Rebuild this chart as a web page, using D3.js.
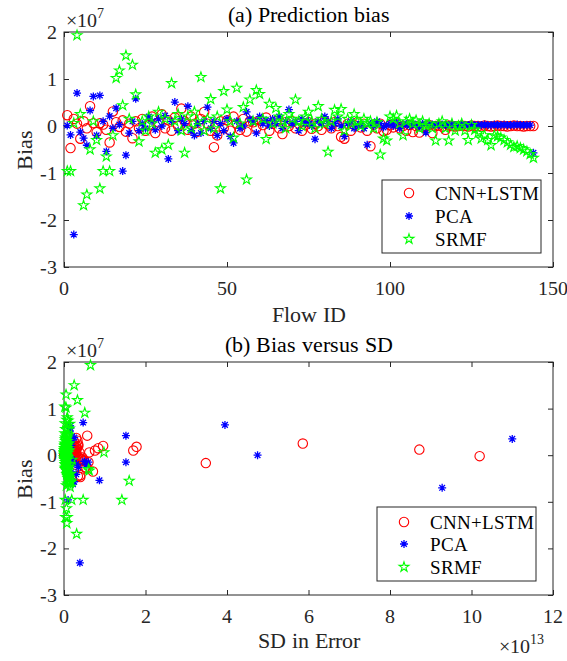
<!DOCTYPE html>
<html>
<head>
<meta charset="utf-8">
<script src="https://cdn.jsdelivr.net/npm/d3@7"></script>
<style>
  @font-face { font-family: "ChartSerif"; src: local("Liberation Serif"), local("LiberationSerif-Regular"), local("LiberationSerif"); }
  body { margin: 0; background: #fff; }
  svg text { font-family: "ChartSerif", "Liberation Serif", "Times New Roman", serif; }
</style>
</head>
<body>
<div id="chart"></div>
<script>
// ---- data (bias in units of 1e7, SD in units of 1e13) ----
const flowIds = d3.range(1, 145);
const seriesNames = ["CNN+LSTM", "PCA", "SRMF"];

const biasCnn = [
  0.23, -0.47, 0.15, 0.05, -0.27, 0.10, -0.05, 0.42, 0.06, -0.13, 0.06, 0.03,
  -0.08, -0.35, 0.31, 0.08, -0.02, 0.12, -0.12, 0.05, -0.26, 0.10, -0.05, 0.15,
  -0.10, 0.02, 0.20, -0.15, 0.08, 0.25, -0.05, 0.12, -0.10, 0.18, 0.00, 0.37,
  0.10, -0.08, 0.20, 0.05, -0.12, 0.15, 0.30, 0.05, -0.10, -0.45, -0.20, 0.10,
  -0.05, 0.12, -0.10, 0.20, 0.05, -0.08, 0.15, -0.12, 0.10, 0.08, -0.05, 0.12,
  0.02, 0.18, -0.10, 0.05, 0.10, -0.05, -0.17, 0.08, 0.00, 0.10, -0.05, 0.05,
  -0.10, 0.02, 0.08, -0.06, 0.05, 0.00, -0.08, 0.10, 0.03, -0.05, 0.08, 0.00,
  -0.23, -0.27, 0.05, -0.10, 0.02, 0.08, -0.03, 0.05, -0.10, -0.43, 0.03, -0.05,
  0.05, -0.11, -0.08, 0.02, -0.03, 0.05, -0.05, 0.00, -0.10, 0.02, -0.13, 0.00,
  -0.14, -0.02, 0.00, 0.02, -0.15, 0.00, 0.01, -0.01, -0.08, 0.01, 0.00, -0.01,
  0.00, 0.01, 0.00, -0.01, 0.01, 0.00, 0.00, -0.01, 0.01, 0.00, -0.01, 0.00,
  0.01, 0.00, 0.00, -0.01, 0.00, 0.01, 0.00, 0.00, -0.01, 0.00, 0.00, 0.00
];

const biasPca = [
  0.01, -0.19, -2.31, 0.70, -0.13, -0.26, -0.41, 0.33, 0.63, -0.20, 0.65, 0.10,
  -0.54, 0.21, -0.05, 0.38, 0.03, -0.96, -0.62, -0.15, 0.10, 0.58, -0.10, 0.05,
  -0.05, 0.20, 0.10, -0.08, 0.15, 0.00, 0.22, -0.70, 0.10, 0.51, -0.10, 0.15,
  0.05, 0.42, -0.10, -0.20, 0.05, -0.15, 0.10, 0.40, -0.05, 0.10, -0.20, 0.05,
  -0.10, 0.15, -0.22, -0.36, 0.10, -0.05, 0.00, 0.30, 0.15, 0.10, -0.15, 0.20,
  0.05, 0.12, 0.00, 0.15, 0.05, 0.20, -0.05, 0.10, 0.35, 0.05, 0.10, -0.10,
  0.15, 0.05, 0.10, 0.00, -0.28, 0.10, 0.05, 0.20, 0.10, -0.05, 0.05, 0.15,
  0.00, -0.22, 0.05, 0.10, -0.05, 0.02, 0.05, -0.05, -0.40, 0.05, 0.00, 0.10,
  0.05, -0.03, 0.02, 0.05, 0.00, 0.08, -0.05, 0.03, 0.05, 0.00, 0.05, 0.02,
  -0.03, 0.05, -0.14, 0.02, 0.03, 0.02, 0.02, 0.03, 0.02, 0.02, 0.03, 0.02,
  0.02, 0.03, 0.02, 0.02, 0.03, 0.02, 0.02, 0.02, 0.03, 0.02, 0.02, 0.03,
  0.02, 0.02, 0.03, 0.02, 0.02, 0.02, 0.03, 0.02, 0.02, 0.02, 0.02, -0.57
];

const biasSrmf = [
  -0.96, -0.96, 0.06, 1.93, 0.25, -1.69, -1.46, -0.50, 0.10, -0.30, -1.33, -0.96,
  -0.65, -0.96, -0.20, 1.02, 1.18, 0.44, 1.50, 0.15, 1.30, 0.67, -0.33, 0.10,
  -0.10, 0.20, 0.05, -0.57, 0.30, -0.50, 0.15, -0.40, 0.91, 0.10, 0.25, -0.10,
  -0.57, 0.20, -0.05, 0.30, 0.10, 1.04, -0.10, 0.15, 0.57, -0.05, 0.20, -1.33,
  0.74, 0.35, 0.10, -0.25, 0.81, 0.05, 0.40, -1.14, 0.56, 0.10, 0.76, 0.68,
  0.15, -0.28, 0.47, 0.05, 0.38, 0.20, 0.10, -0.05, 0.25, 0.15, 0.56, 0.10,
  0.00, 0.20, 0.30, 0.10, -0.05, 0.42, 0.15, 0.05, -0.55, 0.10, 0.34, 0.20,
  0.36, -0.10, 0.15, 0.05, 0.25, 0.10, 0.00, 0.15, 0.05, 0.10, -0.05, 0.08,
  -0.61, -0.27, -0.31, 0.20, 0.15, 0.22, 0.05, -0.20, 0.10, 0.15, 0.05, 0.12,
  -0.05, 0.10, 0.00, 0.05, -0.05, -0.31, 0.05, 0.10, -0.05, -0.31, 0.05, -0.10,
  0.00, 0.05, -0.10, -0.30, 0.02, -0.08, -0.15, -0.27, -0.20, -0.30, -0.41, -0.20,
  -0.22, -0.25, -0.30, -0.35, -0.40, -0.45, -0.43, -0.47, -0.50, -0.54, -0.60, -0.68
];

const sdCnn = [
  0.35, 0.40, 0.84, 0.30, 0.55, 1.70, 0.45, 0.57, 0.62, 0.50, 0.38, 0.28,
  0.42, 0.71, 0.33, 0.25, 10.20, 8.72, 0.48, 0.30, 0.52, 0.76, 0.35, 0.20,
  0.44, 0.18, 0.30, 0.60, 0.22, 5.86, 0.15, 0.27, 0.36, 1.78, 0.20, 0.30,
  0.25, 0.18, 0.96, 0.20, 0.26, 0.32, 0.24, 0.16, 0.30, 0.34, 0.28, 0.22,
  0.18, 0.24, 0.20, 0.35, 0.15, 0.22, 0.30, 0.18, 0.25, 0.20, 0.15, 0.28,
  0.12, 0.26, 0.20, 0.14, 0.22, 0.18, 3.48, 0.16, 0.12, 0.20, 0.14, 0.10,
  0.18, 0.12, 0.15, 0.10, 0.14, 0.08, 0.16, 0.12, 0.10, 0.15, 0.08, 0.12,
  0.10, 0.25, 0.08, 0.14, 0.06, 0.10, 0.08, 0.12, 0.15, 0.40, 0.07, 0.10,
  0.08, 0.20, 0.06, 0.05, 0.07, 0.08, 0.05, 0.06, 0.10, 0.05, 0.18, 0.04,
  0.16, 0.05, 0.04, 0.05, 0.15, 0.04, 0.03, 0.04, 0.08, 0.03, 0.03, 0.04,
  0.03, 0.02, 0.03, 0.03, 0.02, 0.03, 0.02, 0.03, 0.02, 0.02, 0.03, 0.02,
  0.02, 0.03, 0.02, 0.02, 0.03, 0.02, 0.02, 0.02, 0.03, 0.02, 0.02, 0.03
];

const sdPca = [
  0.10, 0.30, 0.39, 0.47, 0.50, 0.35, 0.30, 0.20, 0.15, 0.55, 3.95, 0.12,
  0.87, 0.18, 0.10, 0.25, 0.08, 0.10, 0.22, 0.60, 0.12, 0.16, 0.20, 0.10,
  0.14, 0.08, 0.12, 0.18, 0.10, 0.06, 0.12, 9.28, 0.08, 0.14, 0.10, 0.12,
  0.06, 1.52, 0.10, 0.15, 0.08, 0.12, 0.06, 0.20, 0.10, 0.08, 0.14, 0.06,
  0.10, 0.08, 0.15, 0.18, 0.06, 0.10, 4.75, 0.12, 0.08, 0.06, 1.52, 0.10,
  0.05, 0.08, 0.06, 0.10, 0.05, 0.08, 0.06, 0.05, 11.00, 0.06, 0.05, 0.08,
  0.06, 0.05, 0.04, 0.06, 0.12, 0.05, 0.04, 0.08, 0.05, 0.04, 0.06, 0.05,
  0.04, 0.10, 0.05, 0.04, 0.05, 0.03, 0.04, 0.05, 0.14, 0.04, 0.03, 0.05,
  0.04, 0.03, 0.04, 0.03, 0.03, 0.04, 0.03, 0.03, 0.04, 0.03, 0.02, 0.03,
  0.03, 0.02, 0.06, 0.02, 0.03, 0.02, 0.02, 0.03, 0.02, 0.02, 0.02, 0.02,
  0.02, 0.02, 0.02, 0.02, 0.02, 0.02, 0.02, 0.02, 0.02, 0.02, 0.02, 0.02,
  0.02, 0.02, 0.02, 0.02, 0.02, 0.02, 0.02, 0.02, 0.02, 0.02, 0.02, 0.25
];

const sdSrmf = [
  0.03, 0.19, 0.98, 0.65, 0.12, 0.31, 0.07, 0.10, 0.05, 0.60, 0.08, 0.47,
  0.06, 1.42, 0.15, 0.05, 0.33, 0.10, 0.25, 0.08, 0.05, 0.14, 0.62, 0.12,
  0.20, 0.06, 0.10, 0.18, 0.04, 0.12, 0.08, 0.16, 0.51, 0.05, 0.10, 0.07,
  0.14, 0.03, 0.09, 0.06, 0.11, 0.02, 0.08, 0.05, 0.13, 0.04, 0.07, 0.04,
  0.10, 0.06, 0.03, 0.12, 0.08, 0.05, 0.09, 0.06, 0.04, 0.11, 0.07, 0.03,
  0.05, 0.09, 0.02, 0.06, 0.04, 0.08, 0.03, 0.05, 0.07, 0.02, 0.06, 0.04,
  0.03, 0.05, 0.08, 0.02, 0.04, 0.06, 0.03, 0.02, 1.60, 0.05, 0.03, 0.04,
  0.06, 0.02, 0.03, 0.05, 0.02, 0.04, 0.03, 0.02, 0.05, 0.03, 0.02, 0.04,
  0.09, 0.03, 0.05, 0.02, 0.03, 0.04, 0.02, 0.03, 0.02, 0.04, 0.02, 0.03,
  0.02, 0.03, 0.02, 0.02, 0.03, 0.06, 0.02, 0.03, 0.02, 0.05, 0.02, 0.03,
  0.02, 0.02, 0.03, 0.04, 0.02, 0.02, 0.03, 0.05, 0.04, 0.05, 0.07, 0.04,
  0.05, 0.06, 0.07, 0.08, 0.09, 0.10, 0.10, 0.11, 0.12, 0.13, 0.14, 0.15
];

const flowTicks = [0, 50, 100, 150];
const sdTicks = [0, 2, 4, 6, 8, 10, 12];
const biasTicks = [-3, -2, -1, 0, 1, 2];

// ---- drawing ----
const W = 567, H = 661;
const axisColor = "#262626";
const serif = '"ChartSerif", "Liberation Serif", "Times New Roman", serif';
const styles = [
  { color: "#ff0000", kind: "circle" },
  { color: "#0000ff", kind: "asterisk" },
  { color: "#00ff00", kind: "star" }
];

const svg = d3.select("#chart").append("svg")
  .attr("width", W)
  .attr("height", H);

function starPath(R) {
  const p = d3.path();
  const r = R * 0.382;
  for (let i = 0; i < 10; i++) {
    const a = -Math.PI / 2 + i * Math.PI / 5;
    const rr = i % 2 ? r : R;
    if (i === 0) p.moveTo(rr * Math.cos(a), rr * Math.sin(a));
    else p.lineTo(rr * Math.cos(a), rr * Math.sin(a));
  }
  p.closePath();
  return p.toString();
}

function asteriskPath(R) {
  const p = d3.path();
  for (let i = 0; i < 4; i++) {
    const a = i * Math.PI / 4;
    p.moveTo(R * Math.cos(a), R * Math.sin(a));
    p.lineTo(-R * Math.cos(a), -R * Math.sin(a));
  }
  return p.toString();
}

const markerD = {
  circle: d3.symbol().type(d3.symbolCircle).size(Math.PI * 4.7 * 4.7)(),
  asterisk: asteriskPath(4),
  star: starPath(5.2)
};

function drawMarkers(g, pts, style) {
  g.append("g").selectAll("path")
    .data(pts)
    .join("path")
    .attr("d", markerD[style.kind])
    .attr("transform", d => `translate(${d[0]},${d[1]})`)
    .attr("fill", "none")
    .attr("stroke", style.color)
    .attr("stroke-width", style.kind === "asterisk" ? 1.3 : 1.1);
}

// text kept at 20px and scaled where a bigger size is needed
function label(g, x, y, size, txt, rot) {
  const k = size / 20;
  const t = g.append("text")
    .attr("transform", `translate(${x},${y})${rot ? " rotate(" + rot + ")" : ""} scale(${k})`)
    .style("font-family", serif).attr("font-size", 20)
    .attr("fill", axisColor);
  if (txt !== null) t.text(txt);
  return t;
}

function drawPanel(cfg) {
  const x = d3.scaleLinear().domain(cfg.xDomain).range([64, 553]);
  const y = d3.scaleLinear().domain([-3, 2]).range([cfg.bottom, cfg.top]);
  const g = svg.append("g");

  // ticks on all four sides (inward)
  const xAx = d3.axisBottom(x).tickValues(cfg.xTicks).tickSize(-5).tickFormat("");
  const xAxTop = d3.axisTop(x).tickValues(cfg.xTicks).tickSize(-5).tickFormat("");
  const yAx = d3.axisLeft(y).tickValues(biasTicks).tickSize(-5).tickFormat("");
  const yAxR = d3.axisRight(y).tickValues(biasTicks).tickSize(-5).tickFormat("");
  [[xAx, `translate(0,${cfg.bottom})`], [xAxTop, `translate(0,${cfg.top})`],
   [yAx, "translate(64,0)"], [yAxR, "translate(553,0)"]].forEach(([ax, t]) => {
    const a = g.append("g").attr("transform", t).call(ax);
    a.select(".domain").remove();
    a.selectAll("line").attr("stroke", axisColor);
  });

  g.append("rect")
    .attr("x", 64).attr("y", cfg.top)
    .attr("width", 553 - 64).attr("height", cfg.bottom - cfg.top)
    .attr("fill", "none").attr("stroke", axisColor).attr("stroke-width", 1);

  // tick labels
  cfg.xTicks.forEach(d => {
    label(g, x(d), cfg.bottom + 28, 20, d).attr("text-anchor", "middle");
  });
  biasTicks.forEach(d => {
    label(g, 57, y(d) + 7, 20, d).attr("text-anchor", "end");
  });

  // exponent labels
  const e1 = label(g, 66, cfg.top - 5, 20, null);
  e1.append("tspan").text("\u00d710");
  e1.append("tspan").attr("dy", -9).attr("font-size", 14).text("7");

  if (cfg.xExp) {
    const e2 = label(g, 499, cfg.bottom + 58, 20, null);
    e2.append("tspan").text("\u00d710");
    e2.append("tspan").attr("dy", -9).attr("font-size", 14).text(cfg.xExp);
  }

  // titles and axis labels
  label(g, 308.5, cfg.top - 10, 22, cfg.title)
    .attr("text-anchor", "middle").attr("fill", "#000");
  label(g, 308.5, cfg.xLabelY, 22, cfg.xLabel).attr("text-anchor", "middle");
  label(g, 32, (cfg.top + cfg.bottom) / 2, 22, "Bias", -90)
    .attr("text-anchor", "middle");

  // data
  cfg.series.forEach((s, i) => {
    const pts = s.y.map((v, k) => [x(s.x[k]), y(v)]);
    drawMarkers(g, pts, styles[i]);
  });

  // legend
  const L = cfg.legend;
  g.append("rect").attr("x", L.x).attr("y", L.y).attr("width", L.w).attr("height", L.h)
    .attr("fill", "#fff").attr("stroke", axisColor).attr("stroke-width", 1);
  seriesNames.forEach((name, i) => {
    const cy = L.y + L.rows[i];
    g.append("path").attr("d", markerD[styles[i].kind])
      .attr("transform", `translate(${L.x + 27},${cy})`)
      .attr("fill", "none").attr("stroke", styles[i].color)
      .attr("stroke-width", styles[i].kind === "asterisk" ? 1.3 : 1.1);
    label(g, L.x + 53, cy + 7, 19, name).attr("fill", "#000");
  });
}

function draw() {
  svg.selectAll("*").remove();
  drawPanel({
    top: 32, bottom: 267, xDomain: [0, 150], xTicks: flowTicks,
    title: "(a) Prediction bias", xLabel: "Flow ID", xLabelY: 322,
    series: [
      { x: flowIds, y: biasCnn },
      { x: flowIds, y: biasPca },
      { x: flowIds, y: biasSrmf }
    ],
    legend: { x: 382, y: 180, w: 159, h: 73, rows: [13, 36, 59] }
  });

  drawPanel({
    top: 362, bottom: 595, xDomain: [0, 12], xTicks: sdTicks, xExp: "13",
    title: "(b) Bias versus SD", xLabel: "SD in Error", xLabelY: 648,
    series: [
      { x: sdCnn, y: biasCnn },
      { x: sdPca, y: biasPca },
      { x: sdSrmf, y: biasSrmf }
    ],
    legend: { x: 377, y: 507, w: 159, h: 74, rows: [15, 37, 60] }
  });
}

draw();
// redraw once the serif face is surely loaded
if (document.fonts && document.fonts.load) {
  document.fonts.load('20px "ChartSerif"').then(draw).catch(() => {});
}
</script>
</body>
</html>
